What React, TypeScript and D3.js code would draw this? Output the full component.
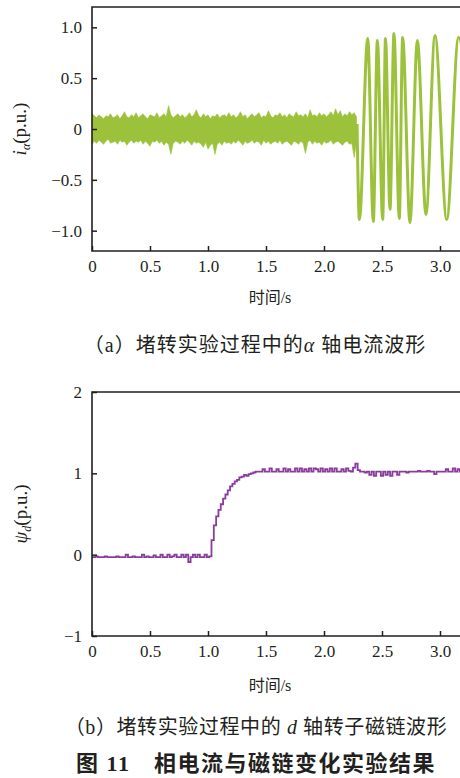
import React, { useRef, useEffect } from "react";
import * as d3 from "d3";

// sampled at fixed step (s)
const NOISE_DT = 0.02;
const FLUX_DT = 0.02;

// (a) alpha-axis current: noise band before lock release (upper / lower edge)
const noiseUpper = [
  0.15, 0.13, 0.11, 0.14, 0.12, 0.10, 0.13, 0.12, 0.15, 0.11,
  0.12, 0.14, 0.10, 0.13, 0.17, 0.12, 0.11, 0.14, 0.12, 0.16,
  0.11, 0.13, 0.15, 0.12, 0.10, 0.14, 0.13, 0.12, 0.16, 0.11,
  0.13, 0.15, 0.12, 0.23, 0.14, 0.11, 0.13, 0.15, 0.12, 0.14,
  0.11, 0.13, 0.16, 0.12, 0.14, 0.19, 0.13, 0.11, 0.15, 0.12,
  0.14, 0.10, 0.13, 0.12, 0.15, 0.11, 0.13, 0.14, 0.12, 0.16,
  0.12, 0.14, 0.11, 0.13, 0.17, 0.12, 0.14, 0.10, 0.13, 0.15,
  0.12, 0.14, 0.16, 0.11, 0.13, 0.12, 0.18, 0.13, 0.11, 0.14,
  0.13, 0.16, 0.12, 0.14, 0.11, 0.15, 0.13, 0.12, 0.17, 0.13,
  0.14, 0.12, 0.15, 0.11, 0.19, 0.13, 0.14, 0.12, 0.16, 0.13,
  0.15, 0.12, 0.14, 0.17, 0.13, 0.20, 0.14, 0.18, 0.12, 0.15,
  0.13, 0.17, 0.14, 0.16, 0.12,
];
const noiseLower = [
  -0.15, -0.12, -0.14, -0.11, -0.13, -0.15, -0.12, -0.10, -0.14, -0.13,
  -0.12, -0.15, -0.11, -0.13, -0.12, -0.16, -0.13, -0.11, -0.14, -0.12,
  -0.13, -0.11, -0.15, -0.12, -0.14, -0.17, -0.12, -0.13, -0.11, -0.14,
  -0.12, -0.16, -0.13, -0.15, -0.25, -0.14, -0.12, -0.13, -0.15, -0.12,
  -0.14, -0.11, -0.13, -0.16, -0.12, -0.14, -0.13, -0.15, -0.18, -0.13,
  -0.20, -0.16, -0.14, -0.25, -0.15, -0.13, -0.16, -0.12, -0.14, -0.13,
  -0.15, -0.12, -0.14, -0.11, -0.13, -0.16, -0.12, -0.14, -0.13, -0.11,
  -0.14, -0.12, -0.13, -0.16, -0.11, -0.14, -0.12, -0.15, -0.13, -0.12,
  -0.14, -0.11, -0.15, -0.13, -0.12, -0.14, -0.16, -0.12, -0.13, -0.15,
  -0.12, -0.14, -0.24, -0.13, -0.11, -0.15, -0.12, -0.14, -0.13, -0.16,
  -0.12, -0.14, -0.13, -0.11, -0.15, -0.13, -0.12, -0.14, -0.16, -0.13,
  -0.12, -0.15, -0.14, -0.28, -0.13,
];
// (a) oscillation after release: peaks and troughs
const oscTime = [2.285, 2.305, 2.377, 2.425, 2.46, 2.506, 2.53, 2.569, 2.603, 2.649, 2.678, 2.741, 2.805, 2.879, 2.957, 3.058, 3.16, 3.26];
const oscValue = [0.05, -0.89, 0.89, -0.91, 0.87, -0.89, 0.89, -0.79, 0.94, -0.88, 0.9, -0.92, 0.87, -0.84, 0.92, -0.89, 0.9, -0.3];

// (b) d-axis rotor flux
const fluxValue = [
  -0.03, -0.03, -0.02, -0.03, -0.03, -0.03, -0.02, -0.03, -0.03, -0.03,
  -0.03, -0.02, -0.03, -0.03, -0.03, 0.0, -0.03, -0.03, -0.02, -0.03,
  -0.03, -0.03, 0.0, -0.03, -0.02, -0.03, -0.03, -0.01, -0.03, -0.03,
  0.0, -0.03, -0.03, 0.0, -0.03, -0.02, 0.0, -0.03, -0.03, 0.0,
  -0.03, 0.0, -0.09, -0.03, 0.0, -0.03, 0.0, -0.03, -0.03, 0.0,
  -0.03,
  -0.02, 0.18, 0.36, 0.47, 0.55, 0.62, 0.69, 0.74, 0.79, 0.84,
  0.87, 0.9, 0.92, 0.95, 0.96, 0.98, 0.97, 0.99, 1.0, 1.01, 1.02,
  1.02, 1.02, 1.05, 1.02, 1.02, 1.06, 1.02, 1.02, 1.05, 1.02,
  1.02, 1.06, 1.02, 1.05, 1.02, 1.02, 1.06, 1.02, 1.06, 1.02,
  1.05, 1.02, 1.06, 1.02, 1.06, 1.05, 1.02, 1.06, 1.02, 1.05,
  1.02, 1.06, 1.02, 1.06, 1.02, 1.02, 1.05, 1.02, 1.06, 1.03,
  1.02, 1.07, 1.12, 1.04, 1.02, 1.02, 1.01, 1.02, 0.98, 1.02,
  0.97, 1.02, 1.02, 0.97, 1.02, 0.98, 1.02, 0.97, 1.02, 1.02,
  0.98, 1.02, 1.02, 1.02, 1.01, 1.02, 1.02, 1.02, 1.02, 1.03,
  1.02, 1.02, 1.02, 1.03, 1.02, 1.02, 0.99, 1.02, 1.02, 1.02,
  1.02, 1.05, 1.02, 1.02, 1.06, 1.02, 1.05, 1.02, 1.06,
];

const xTicks = [0, 0.5, 1.0, 1.5, 2.0, 2.5, 3.0];
const topYTicks = [-1.0, -0.5, 0, 0.5, 1.0];
const botYTicks = [-1, 0, 1, 2];

const GREEN = "#9cc23c";
const PURPLE = "#8a3c9e";
const INK = "#231f20";
const SERIF = "'Times New Roman', 'Liberation Serif', Times, serif";
const CJK = "'Times New Roman', 'Liberation Serif', 'Noto Sans CJK SC', serif";

const App = () => {
  const plotRef = useRef(null);

  useEffect(() => {
    document.body.style.margin = "0";
    const svg = d3.select(plotRef.current);
    svg.selectAll("*").remove();

    const x = d3.scaleLinear().domain([0, 3.2]).range([92, 463.2]);
    const yTop = d3.scaleLinear().domain([-1.2, 1.2]).range([251, 7]);
    const yBot = d3.scaleLinear().domain([-1, 2]).range([636, 392]);

    const fmt = (d) => (d === 0 ? "0" : d.toFixed(1).replace("-", "−"));
    const fmtInt = (d) => String(d).replace("-", "−");

    const defs = svg.append("defs");
    [["clipTop", yTop], ["clipBot", yBot]].forEach(([id, y]) => {
      const r = y.range();
      defs.append("clipPath").attr("id", id).append("rect")
        .attr("x", 92).attr("y", r[1]).attr("width", 380).attr("height", r[0] - r[1]);
    });

    const drawAxes = (y, yTicksArr, yFmt) => {
      const [y0, y1] = y.range();
      const gx = svg.append("g").attr("transform", `translate(0,${y0})`)
        .call(d3.axisBottom(x).tickValues(xTicks).tickSizeInner(-5).tickSizeOuter(0).tickPadding(9).tickFormat(fmt));
      const gy = svg.append("g").attr("transform", `translate(92,0)`)
        .call(d3.axisLeft(y).tickValues(yTicksArr).tickSizeInner(-5).tickSizeOuter(0).tickPadding(10).tickFormat(yFmt));
      [gx, gy].forEach(g => {
        g.attr("font-family", null).attr("font-size", null);
        g.select(".domain").remove();
        g.selectAll("line").attr("stroke", INK).attr("stroke-width", 1.5);
        g.selectAll("text").style("font-family", SERIF).style("font-size", "17px").attr("fill", INK);
      });
      // frame (right side runs off the picture)
      svg.append("path")
        .attr("d", `M463,${y1}H92V${y0}H463`)
        .attr("fill", "none").attr("stroke", INK).attr("stroke-width", 1.6);
    };

    // (a) current
    const gTop = svg.append("g").attr("clip-path", "url(#clipTop)");
    const band = noiseUpper.map((u, i) => ({ t: i * NOISE_DT, u, l: noiseLower[i] }));
    gTop.append("path").datum(band)
      .attr("d", d3.area().x(d => x(d.t)).y0(d => yTop(d.l)).y1(d => yTop(d.u)))
      .attr("fill", GREEN).attr("stroke", GREEN).attr("stroke-width", 0.6);
    const osc = oscTime.map((t, i) => ({ t, v: oscValue[i] }));
    gTop.append("path").datum(osc)
      .attr("d", d3.line().x(d => x(d.t)).y(d => yTop(d.v)).curve(d3.curveMonotoneX))
      .attr("fill", "none").attr("stroke", GREEN).attr("stroke-width", 3);
    drawAxes(yTop, topYTicks, fmt);

    // (b) flux
    const gBot = svg.append("g").attr("clip-path", "url(#clipBot)");
    const flux = fluxValue.map((v, i) => ({ t: i * FLUX_DT, v }));
    gBot.append("path").datum(flux)
      .attr("d", d3.line().x(d => x(d.t)).y(d => yBot(d.v)).curve(d3.curveStep))
      .attr("fill", "none").attr("stroke", PURPLE).attr("stroke-width", 1.8);
    drawAxes(yBot, botYTicks, fmtInt);
  }, []);

  return (
    <svg width={460} height={778} style={{ display: "block", background: "#fff" }}>
      <g ref={plotRef}></g>
      <text transform="translate(26,129) rotate(-90)" textAnchor="middle" style={{ fontFamily: SERIF, fontSize: 19 }} fill={INK}>
        <tspan fontStyle="italic">i</tspan>
        <tspan fontStyle="italic" fontSize={12} dy={4}>α</tspan>
        <tspan dy={-4}>(p.u.)</tspan>
      </text>
      <text x={270} y={303} textAnchor="middle" style={{ fontFamily: CJK, fontSize: 16 }} fill={INK}>时间/s</text>
      <text x={255} y={352} textAnchor="middle" style={{ fontFamily: CJK, fontSize: 20, letterSpacing: 1 }} fill={INK}>
        （a）堵转实验过程中的<tspan fontStyle="italic">α</tspan> 轴电流波形
      </text>

      <text transform="translate(27,514) rotate(-90)" textAnchor="middle" style={{ fontFamily: SERIF, fontSize: 19 }} fill={INK}>
        <tspan fontStyle="italic">ψ</tspan>
        <tspan fontStyle="italic" fontSize={12} dy={4}>d</tspan>
        <tspan dy={-4}>(p.u.)</tspan>
      </text>
      <text x={270} y={691} textAnchor="middle" style={{ fontFamily: CJK, fontSize: 16 }} fill={INK}>时间/s</text>
      <text x={256} y={734} textAnchor="middle" style={{ fontFamily: CJK, fontSize: 20, letterSpacing: 0.6 }} fill={INK}>
        （b）堵转实验过程中的 <tspan fontStyle="italic">d</tspan> 轴转子磁链波形
      </text>
      <text x={256} y={771} textAnchor="middle" style={{ fontFamily: CJK, fontSize: 22, fontWeight: "bold", letterSpacing: 1.5 }} fill={INK}>
        图 11　相电流与磁链变化实验结果
      </text>
    </svg>
  );
};

export default App;
